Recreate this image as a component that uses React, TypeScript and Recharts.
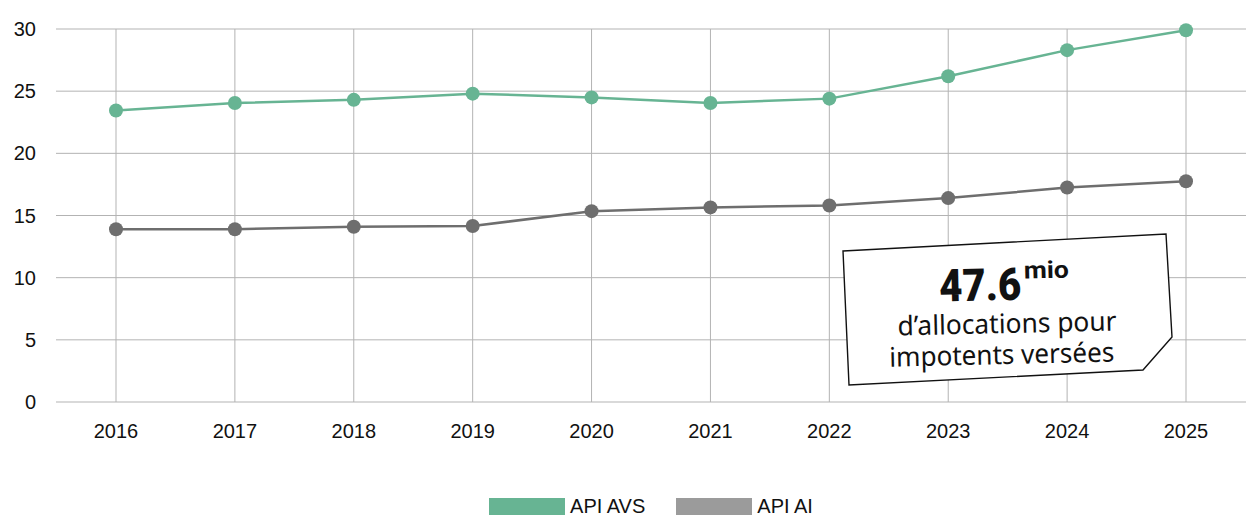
import { LineChart, Line, XAxis, YAxis, CartesianGrid, Legend } from "recharts";

const years = ["2016", "2017", "2018", "2019", "2020", "2021", "2022", "2023", "2024", "2025"];
const apiAvs = [23.45, 24.05, 24.3, 24.8, 24.5, 24.05, 24.4, 26.2, 28.3, 29.9];
const apiAi = [13.9, 13.9, 14.1, 14.15, 15.35, 15.65, 15.8, 16.4, 17.25, 17.75];
const yTicks = [0, 5, 10, 15, 20, 25, 30];

const seriesNames = ["API AVS", "API AI"];
const legendColors = ["#67b493", "#9b9b9b"];

const data = years.map((year, i) => ({ year, avs: apiAvs[i], ai: apiAi[i] }));

const FONT = "'Liberation Sans', Arial, sans-serif";

function ChartLegend() {
  return (
    <div
      style={{
        height: 24,
        display: "flex",
        alignItems: "center",
        justifyContent: "center",
        paddingLeft: 56,
        fontFamily: FONT,
        fontSize: 20,
        color: "#111",
      }}
    >
      {seriesNames.map((name, i) => (
        <div key={name} style={{ display: "flex", alignItems: "center", marginRight: i === 0 ? 31 : 0 }}>
          <span style={{ display: "inline-block", width: 76, height: 17, background: legendColors[i], marginRight: 5 }} />
          <span>{name}</span>
        </div>
      ))}
    </div>
  );
}

// boxed note, drawn over the plot
function Callout() {
  return (
    <svg width={1247} height={518} style={{ position: "absolute", left: 0, top: 0, pointerEvents: "none" }}>
      <polygon
        points="843,251 1166,234 1172,337 1143,370 849,385"
        fill="#fff"
        stroke="#111"
        strokeWidth={1.4}
      />
      <g transform="rotate(-1.3 1005 320)" fill="#111">
        <text x={940} y={300} fontFamily="Roboto, sans-serif" fontWeight={900} fontSize={45} textLength={82} lengthAdjust="spacingAndGlyphs">
          47.6
        </text>
        <text x={1025} y={279} fontFamily="Roboto, sans-serif" fontWeight={700} fontSize={24} textLength={45} lengthAdjust="spacingAndGlyphs">
          mio
        </text>
        <text x={1007} y={333} textAnchor="middle" fontFamily="'Noto Sans', sans-serif" fontSize={27} textLength={219} lengthAdjust="spacingAndGlyphs">
          d’allocations pour
        </text>
        <text x={1001} y={364} textAnchor="middle" fontFamily="'Noto Sans', sans-serif" fontSize={27} textLength={225} lengthAdjust="spacingAndGlyphs">
          impotents versées
        </text>
      </g>
    </svg>
  );
}

export default function App() {
  return (
    <div style={{ position: "relative", width: 1247, height: 518, background: "#fff" }}>
      <style>{"body{margin:0}"}</style>
      <LineChart width={1247} height={518} data={data} margin={{ top: 29, right: 1, bottom: 0, left: 0 }}>
        <CartesianGrid stroke="#b3b3b3" strokeWidth={1} syncWithTicks />
        <XAxis
          dataKey="year"
          axisLine={false}
          tickLine={false}
          height={92}
          padding={{ left: 60, right: 60 }}
          tickMargin={16}
          tick={{ fill: "#111", fontSize: 20, fontFamily: FONT }}
          interval={0}
        />
        <YAxis
          domain={[0, 30]}
          ticks={yTicks}
          axisLine={false}
          tickLine={false}
          width={56}
          tickMargin={14}
          tick={{ fill: "#111", fontSize: 20, fontFamily: FONT }}
        />
        <Legend verticalAlign="bottom" content={() => <ChartLegend />} />
        <Line
          type="linear"
          dataKey="avs"
          name="API AVS"
          stroke="#67b493"
          strokeWidth={2.5}
          dot={{ r: 7, fill: "#67b493", stroke: "none" }}
          activeDot={false}
          isAnimationActive={false}
        />
        <Line
          type="linear"
          dataKey="ai"
          name="API AI"
          stroke="#6e6e6e"
          strokeWidth={2.5}
          dot={{ r: 7, fill: "#6e6e6e", stroke: "none" }}
          activeDot={false}
          isAnimationActive={false}
        />
      </LineChart>
      <Callout />
    </div>
  );
}
